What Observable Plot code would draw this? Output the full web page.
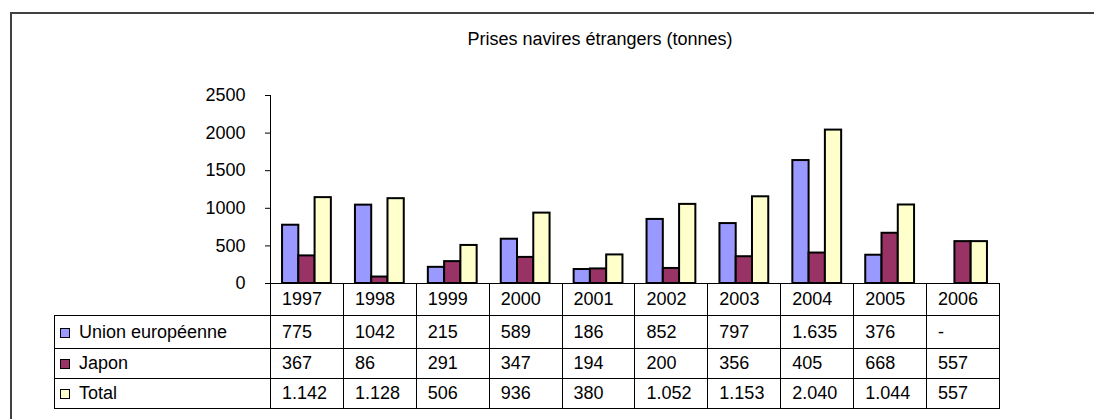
<!DOCTYPE html>
<html>
<head>
<meta charset="utf-8">
<script src="https://cdn.jsdelivr.net/npm/d3@7"></script>
<script src="https://cdn.jsdelivr.net/npm/@observablehq/plot@0.6"></script>
<style>
  html, body { margin: 0; padding: 0; background: #fff; }
  body { font-family: "Liberation Sans", Arial, sans-serif; }
  #root { position: relative; width: 1094px; height: 419px; overflow: hidden; background: #fff; }
  #frame { position: absolute; left: 10px; top: 12px; width: 1200px; height: 500px; border: 2px solid #404040; box-sizing: border-box; }
  #title { position: absolute; left: 0; width: 1200px; top: 29px; text-align: center; font-size: 18px; line-height: 20px; color: #000; }
  #chart { position: absolute; left: 0; top: 0; }
  #table { position: absolute; left: 54px; top: 283px; border-collapse: collapse; table-layout: fixed; font-size: 18px; color: #000; }
  #table td { border: 1px solid #000; padding: 0 0 0 11px; white-space: nowrap; overflow: hidden; vertical-align: middle; }
  #table td.blank { border: none; border-right: 1px solid #000; }
  #table td.lab { padding-left: 5px; }
  .sw { display: inline-block; width: 8px; height: 8px; border: 1.5px solid #000; margin-right: 9px; vertical-align: 0px; }
</style>
</head>
<body>
<div id="root">
  <div id="frame"></div>
  <div id="title"></div>
  <div id="chart"></div>
  <table id="table"></table>
</div>
<script>
const title = "Prises navires étrangers (tonnes)";
const years = ["1997","1998","1999","2000","2001","2002","2003","2004","2005","2006"];
const seriesNames = ["Union européenne", "Japon", "Total"];
const seriesColors = ["#9999FF", "#993366", "#FFFFCC"];
const ueValues = [775, 1042, 215, 589, 186, 852, 797, 1635, 376, null];
const japonValues = [367, 86, 291, 347, 194, 200, 356, 405, 668, 557];
const totalValues = [1142, 1128, 506, 936, 380, 1052, 1153, 2040, 1044, 557];
const ueLabels = ["775","1042","215","589","186","852","797","1.635","376","-"];
const japonLabels = ["367","86","291","347","194","200","356","405","668","557"];
const totalLabels = ["1.142","1.128","506","936","380","1.052","1.153","2.040","1.044","557"];
const yTicks = [0, 500, 1000, 1500, 2000, 2500];

document.getElementById("title").textContent = title;

const seriesValues = [ueValues, japonValues, totalValues];
const data = [];
years.forEach((yr, i) => {
  seriesNames.forEach((s, j) => {
    const v = seriesValues[j][i];
    if (v != null) data.push({year: yr, series: s, value: v});
  });
});

const plot = Plot.plot({
  width: 1094,
  height: 300,
  marginTop: 95,
  marginBottom: 17,
  marginLeft: 270,
  marginRight: 95,
  style: {background: "transparent", fontFamily: "Liberation Sans, Arial, sans-serif", fontSize: "18px", color: "#000"},
  fx: {domain: years, axis: null, paddingInner: 0, paddingOuter: 0, round: false},
  x: {domain: seriesNames, axis: null, paddingInner: 0, paddingOuter: 0.74, round: false},
  y: {domain: [0, 2500], axis: null},
  color: {domain: seriesNames, range: seriesColors},
  marks: [
    Plot.barY(data, {fx: "year", x: "series", y: "value", fill: "series", stroke: "#000", strokeWidth: 2, inset: 0}),
    Plot.ruleY([0], {stroke: "#000", strokeWidth: 1}),
    Plot.axisY({ticks: yTicks, tickFormat: d => String(d), tickSize: 5, tickPadding: 20, fontSize: 18, stroke: "#000", label: null}),
    Plot.frame({anchor: "left", facetAnchor: "left", stroke: "#000", strokeWidth: 1})
  ]
});
document.getElementById("chart").appendChild(plot);

// Data table below the chart
const table = document.getElementById("table");
const colgroup = document.createElement("colgroup");
const c0 = document.createElement("col"); c0.style.width = "216px"; colgroup.appendChild(c0);
years.forEach(() => { const c = document.createElement("col"); c.style.width = "72.9px"; colgroup.appendChild(c); });
table.appendChild(colgroup);

const rowHeights = ["32px", "33px", "30px", "30px"];
const headRow = document.createElement("tr");
headRow.style.height = rowHeights[0];
const blank = document.createElement("td"); blank.className = "blank"; headRow.appendChild(blank);
years.forEach(y => { const td = document.createElement("td"); td.textContent = y; headRow.appendChild(td); });
table.appendChild(headRow);

const labelRows = [ueLabels, japonLabels, totalLabels];
seriesNames.forEach((s, j) => {
  const tr = document.createElement("tr");
  tr.style.height = rowHeights[j + 1];
  const lab = document.createElement("td"); lab.className = "lab";
  const sw = document.createElement("span"); sw.className = "sw"; sw.style.background = seriesColors[j];
  lab.appendChild(sw); lab.appendChild(document.createTextNode(s));
  tr.appendChild(lab);
  labelRows[j].forEach(t => { const td = document.createElement("td"); td.textContent = t; tr.appendChild(td); });
  table.appendChild(tr);
});
</script>
</body>
</html>
